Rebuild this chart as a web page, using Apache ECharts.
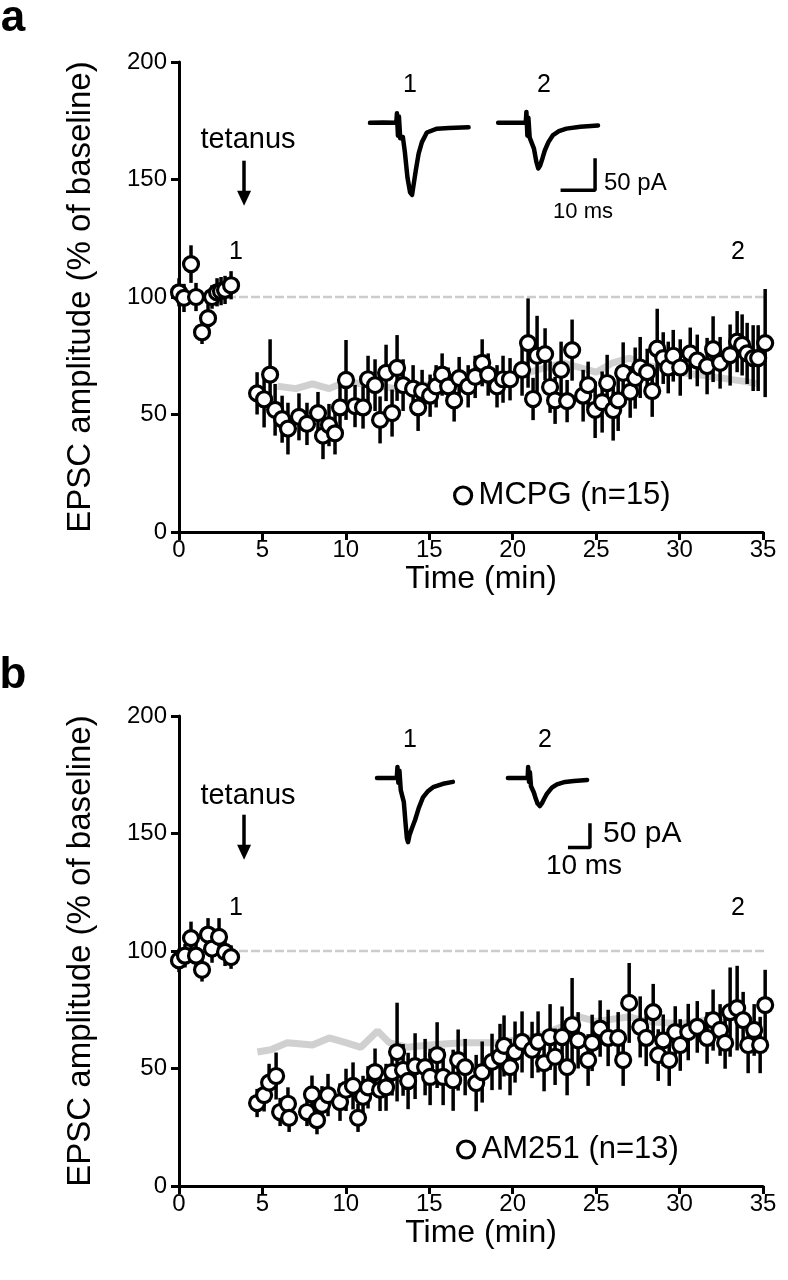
<!DOCTYPE html>
<html>
<head>
<meta charset="utf-8">
<script src="https://cdn.jsdelivr.net/npm/echarts@6/dist/echarts.min.js"></script>
<style>
html,body{margin:0;padding:0;background:#fff;}
#chart{width:788px;height:1280px;}
</style>
</head>
<body>
<div id="chart"></div>
<script>
// ---------- Panel a (MCPG) ----------
const baseTimeA = [0, 0.30, 0.72, 1.02, 1.38, 1.74, 1.98, 2.28, 2.52, 2.76, 3.12];
const baseAmpA  = [102, 99.6, 114, 100, 85, 91, 100, 102, 102.5, 103, 105];
const baseSemA  = [6, 6, 8, 6, 5, 6, 5, 6, 6, 6, 6];
const postTimeA = [4.68,5.10,5.46,5.76,6.18,6.53,7.19,7.67,8.33,8.63,8.99,9.35,9.65,10.01,10.55,11.03,11.33,11.75,12.05,12.41,12.77,13.07,13.43,14.03,14.33,14.57,15.05,15.41,15.77,16.13,16.49,16.79,17.33,17.75,18.17,18.53,19.06,19.42,19.84,20.56,20.92,21.22,21.46,21.94,22.24,22.54,22.90,23.26,23.56,24.22,24.52,24.94,25.36,25.66,26.02,26.32,26.62,27.04,27.34,27.64,28.06,28.36,28.66,29.02,29.32,29.62,30.04,30.64,31.06,31.65,32.01,32.43,33.03,33.45,33.75,34.05,34.41,34.71,35.13];
const postAmpA  = [59,56.5,67,52,48,44,49,46,50.6,41,45.5,42,53,64.7,53.6,53,65,62.5,47.7,67.7,50.6,69.8,62.5,61,53,60,58,62,67,62,56,65.5,62,66,72,67,62,65,65,69,80.4,56.6,75,75.7,61.7,56,69,55.7,77.4,58,62.5,52,55.3,63.4,51.9,56,67.7,59.6,65.5,70,68,60,78,74,70,75,70,76,73,70.6,77.8,72,75.3,81,79.6,76,74,74,80.4];
const postSemA  = [9,12,15,11,10,11,10,9,9,10,9,9,10,17,9,9,10,11,10,12,10,14,11,10,10,9,9,9,9,8,9,9,9,9,10,9,9,10,9,11,19,9,17,11,11,10,12,9,13,11,10,12,13,12,13,13,13,11,13,13,10,11,17,11,11,11,12,11,11,12,14,11,13,13,13,13,14,14,23];
const ctrlTimeA = [5.9,7,8,9,10,11,12,13,14,16,18,20,22,23,24,25,26,27,28,30,32,34,34.6];
const ctrlAmpA  = [62,61,63,61,64,63,62,61,63,62,64,66,70,72,70,68,72,74,71,68,66,64,63];
const legendA = 'MCPG (n=15)';

// ---------- Panel b (AM251) ----------
const baseTimeB = [0, 0.36, 0.72, 1.02, 1.38, 1.74, 1.98, 2.40, 2.76, 3.12];
const baseAmpB  = [96, 98, 105.5, 98, 92, 107, 101, 106, 99.6, 97.4];
const baseSemB  = [5, 5, 7, 6, 5, 7, 6, 8, 6, 5];
const postTimeB = [4.68,5.10,5.40,5.82,6.06,6.53,6.60,7.67,7.97,8.27,8.57,8.93,9.65,10.01,10.43,10.73,11.03,11.33,11.75,12.05,12.41,12.77,13.07,13.43,13.73,14.15,14.75,15.05,15.47,15.83,16.43,16.73,17.15,17.81,18.17,18.76,19.24,19.48,19.84,20.14,20.56,21.16,21.52,21.88,22.24,22.54,22.96,23.26,23.56,23.92,24.52,24.76,25.24,25.72,26.32,26.62,26.98,27.64,28.0,28.42,28.72,29.02,29.38,29.74,30.04,30.52,31.06,31.65,32.01,32.43,32.73,33.03,33.45,33.81,34.11,34.47,34.83,35.13];
const postAmpB  = [35.3,38.7,44,46.8,31.5,35,29,31.5,39,28,34.5,38.7,35.7,40.9,42.6,29,37.9,42,48.5,40.9,42,48.5,57,49.4,44.7,51,50.6,46.4,55.7,46.4,45,53.6,50.6,43.8,48.5,52.8,55,59.6,50.6,57,61.3,57.9,61.3,52.3,63.4,55,63.4,50.6,68.5,62,53.6,60.9,67,63,63,53.6,77.9,67.7,63,74,55.7,62,53.6,65.5,60,65.5,67.7,63,70.6,66.4,60.9,74,75.7,70.6,60,66.4,60,77];
const postSemB  = [6,7,8,10,6,7,6,6,8,6,8,9,8,9,10,6,9,9,10,9,10,10,21,11,12,14,12,12,14,12,13,13,12,12,13,12,14,13,12,13,13,12,13,12,14,12,13,12,20,12,11,12,12,12,11,11,17,13,12,12,11,11,11,11,11,12,11,11,13,11,11,19,18,12,12,11,12,15];
const ctrlTimeB = [4.7,5.5,6.5,8,9,10,10.9,11.9,12.6,13.7,15,17,19,21,22,23,24,25,26,27,28,30,32,33,34.5];
const ctrlAmpB  = [57,58,61,60,63,61,59,66,61,59,60,61,61,63,65,68,72,70,71,72,70,69,71,72,70];
const legendB = 'AM251 (n=13)';

// ---------- Axes ticks ----------
const xTicks = [0, 5, 10, 15, 20, 25, 30, 35];
const yTicks = [0, 50, 100, 150, 200];
const baselineLevel = 100;

// ---------- Inset traces (ms, pA) ----------
const traceA1T = [0,4,8.0,8.2,8.5,8.8,9.2,10.0,10.6,11.4,12.2,12.8,13.4,14.0,14.8,15.8,17.3,20.4,24,30];
const traceA1V = [0,0.5,0,15,-20,10,-24,-22,-45,-85,-108,-112,-92,-72,-48,-30,-15,-9,-8,-7];
const traceA2T = [39,43,47.4,47.6,47.9,48.2,48.6,49.2,49.9,50.6,51.2,51.8,52.5,53.2,54.3,55.7,57.5,59.8,64,69.4];
const traceA2V = [0,0,0,17,-20,8,-23,-22,-40,-60,-71,-66,-55,-43,-30,-19,-13,-9,-6,-4];
const traceB1T = [0,5,9.0,9.3,9.7,10.2,10.8,11.4,12.2,13.0,13.6,14.1,14.8,15.8,17.3,19,20.9,23,25.5,30,34.5];
const traceB1V = [0,0,0,23,-10,15,-25,-22,-50,-95,-125,-133,-118,-105,-87,-62,-40,-28,-19,-12,-8];
const traceB2T = [59.5,64.5,68.5,68.7,69.1,69.5,70.0,70.5,71.3,72.1,73.0,74.0,75.0,76.0,77.2,79.5,81.8,85.5,89.5,95.5];
const traceB2V = [0,0,0,23,-8,12,-17,-16,-30,-42,-53,-58,-52,-43,-33,-20,-13,-8,-6,-4];
const scaleA = {x0: 58, x1: 68.5, y0: -105, y1: -55};
const scaleB = {x0: 86.8, x1: 96.8, y0: -143.75, y1: -93.75};

const FONT = "'Liberation Sans', Arial, sans-serif";
const zip = (a, b) => a.map((v, i) => [v, b[i]]);

function mainX(gi) {
  return {
    gridIndex: gi, type: 'value', min: 0, max: 35, interval: 5,
    axisLine: {show: true, lineStyle: {color: '#000', width: 3}},
    axisTick: {show: true, length: 8, lineStyle: {color: '#000', width: 3}},
    axisLabel: {color: '#000', fontSize: 24, fontFamily: FONT, margin: 6,
      formatter: v => xTicks.includes(v) ? String(v) : ''},
    splitLine: {show: false},
    name: 'Time (min)', nameLocation: 'middle', nameGap: 30,
    nameTextStyle: {color: '#000', fontSize: 32, fontFamily: FONT, padding: [0, 0, 0, 20]}
  };
}
function mainY(gi) {
  return {
    gridIndex: gi, type: 'value', min: 0, max: 200, interval: 50,
    axisLine: {show: true, lineStyle: {color: '#000', width: 3}},
    axisTick: {show: true, length: 8, lineStyle: {color: '#000', width: 3}},
    axisLabel: {color: '#000', fontSize: 24, fontFamily: FONT, margin: 12,
      formatter: v => yTicks.includes(v) ? String(v) : ''},
    splitLine: {show: false},
    name: 'EPSC amplitude (% of baseline)', nameLocation: 'middle', nameGap: 82,
    nameTextStyle: {color: '#000', fontSize: 33, fontFamily: FONT}
  };
}
function hiddenAxis(gi, min, max) {
  return {gridIndex: gi, type: 'value', min, max, show: false, splitLine: {show: false}};
}
function errSeries(gi, t, v, e) {
  return {
    type: 'custom', xAxisIndex: gi, yAxisIndex: gi, z: 3, clip: false, silent: true,
    data: t.map((x, i) => [x, v[i] - e[i], v[i] + e[i]]),
    encode: {x: 0, y: [1, 2]},
    renderItem: (params, api) => {
      const p1 = api.coord([api.value(0), api.value(1)]);
      const p2 = api.coord([api.value(0), api.value(2)]);
      return {type: 'line', shape: {x1: p1[0], y1: p1[1], x2: p2[0], y2: p2[1]},
              style: {stroke: '#000', lineWidth: 3.5}};
    }
  };
}
function pointSeries(gi, name, t, v) {
  return {
    type: 'scatter', name, xAxisIndex: gi, yAxisIndex: gi, z: 4, clip: false,
    symbol: 'circle', symbolSize: 15,
    itemStyle: {color: '#fff', borderColor: '#000', borderWidth: 3.2, opacity: 1},
    data: zip(t, v)
  };
}
function ctrlSeries(gi, t, v) {
  return {
    type: 'line', xAxisIndex: gi, yAxisIndex: gi, z: 1, symbol: 'none', silent: true,
    lineStyle: {color: '#d0d0d0', width: 7}, data: zip(t, v)
  };
}
function refSeries(gi) {
  return {
    type: 'line', xAxisIndex: gi, yAxisIndex: gi, z: 1, symbol: 'none', silent: true, clip: false,
    lineStyle: {color: '#cccccc', width: 2.5, type: [9, 3]},
    data: [[0, baselineLevel], [35.8, baselineLevel]],
    markLine: {
      silent: true, symbol: ['none', 'triangle'], symbolSize: [14, 15],
      label: {show: false},
      lineStyle: {color: '#000', width: 3.5, type: 'solid'},
      data: [[{coord: [3.9, 158]}, {coord: [3.9, 142]}]]
    }
  };
}
function traceSeries(gi, t, v) {
  return {
    type: 'line', xAxisIndex: gi, yAxisIndex: gi, symbol: 'none', silent: true, clip: false,
    lineStyle: {color: '#000', width: 4.5, join: 'round', cap: 'round'}, data: zip(t, v)
  };
}
function scaleSeries(gi, s) {
  return {
    type: 'line', xAxisIndex: gi, yAxisIndex: gi, symbol: 'none', silent: true, clip: false,
    lineStyle: {color: '#000', width: 3.5},
    data: [[s.x0, s.y0], [s.x1, s.y0], [s.x1, s.y1]]
  };
}
function ctext(x, y, text, size, bold, align) {
  return {type: 'text', x, y, style: {text, fill: '#000', font: (bold ? 'bold ' : '') + size + 'px ' + FONT,
    textAlign: align || 'center', textVerticalAlign: 'middle'}};
}
const legendItem = {color: '#fff', borderColor: '#000', borderWidth: 3.2, opacity: 1};

const chart = echarts.init(document.getElementById('chart'), null, {renderer: 'canvas'});
chart.setOption({
  backgroundColor: '#fff',
  animation: false,
  grid: [
    {left: 179, top: 62, width: 584, height: 470},
    {left: 179, top: 716, width: 584, height: 470},
    {left: 370, top: 110, width: 230, height: 90},
    {left: 377, top: 765, width: 231, height: 83}
  ],
  xAxis: [mainX(0), mainX(1), hiddenAxis(2, 0, 70), hiddenAxis(3, 0, 105)],
  yAxis: [mainY(0), mainY(1), hiddenAxis(2, -120, 20), hiddenAxis(3, -145, 27)],
  legend: [
    {data: [legendA], left: 448, top: 475, itemWidth: 17, itemHeight: 17, itemGap: 0,
     itemStyle: legendItem,
     textStyle: {color: '#000', fontSize: 31, fontFamily: FONT, padding: [0, 0, 0, 2]}, selectedMode: false},
    {data: [legendB], left: 451, top: 1129, itemWidth: 17, itemHeight: 17, itemGap: 0,
     itemStyle: legendItem,
     textStyle: {color: '#000', fontSize: 31, fontFamily: FONT, padding: [0, 0, 0, 2]}, selectedMode: false}
  ],
  series: [
    refSeries(0), ctrlSeries(0, ctrlTimeA, ctrlAmpA),
    errSeries(0, baseTimeA.concat(postTimeA), baseAmpA.concat(postAmpA), baseSemA.concat(postSemA)),
    pointSeries(0, legendA, baseTimeA.concat(postTimeA), baseAmpA.concat(postAmpA)),
    refSeries(1), ctrlSeries(1, ctrlTimeB, ctrlAmpB),
    errSeries(1, baseTimeB.concat(postTimeB), baseAmpB.concat(postAmpB), baseSemB.concat(postSemB)),
    pointSeries(1, legendB, baseTimeB.concat(postTimeB), baseAmpB.concat(postAmpB)),
    traceSeries(2, traceA1T, traceA1V), traceSeries(2, traceA2T, traceA2V), scaleSeries(2, scaleA),
    traceSeries(3, traceB1T, traceB1V), traceSeries(3, traceB2T, traceB2V), scaleSeries(3, scaleB)
  ],
  graphic: [
    ctext(13, 19, 'a', 44, true),
    ctext(13, 676, 'b', 44, true),
    ctext(248, 140, 'tetanus', 29),
    ctext(248, 796, 'tetanus', 29),
    ctext(236, 252, '1', 25),
    ctext(738, 252, '2', 25),
    ctext(236, 908, '1', 25),
    ctext(738, 908, '2', 25),
    ctext(410, 85, '1', 25),
    ctext(544, 85, '2', 25),
    ctext(410, 740, '1', 25),
    ctext(545, 740, '2', 25),
    ctext(604, 183, '50 pA', 24, false, 'left'),
    ctext(583, 212, '10 ms', 22),
    ctext(603, 834, '50 pA', 30, false, 'left'),
    ctext(584, 866, '10 ms', 28)
  ]
});
</script>
</body>
</html>
